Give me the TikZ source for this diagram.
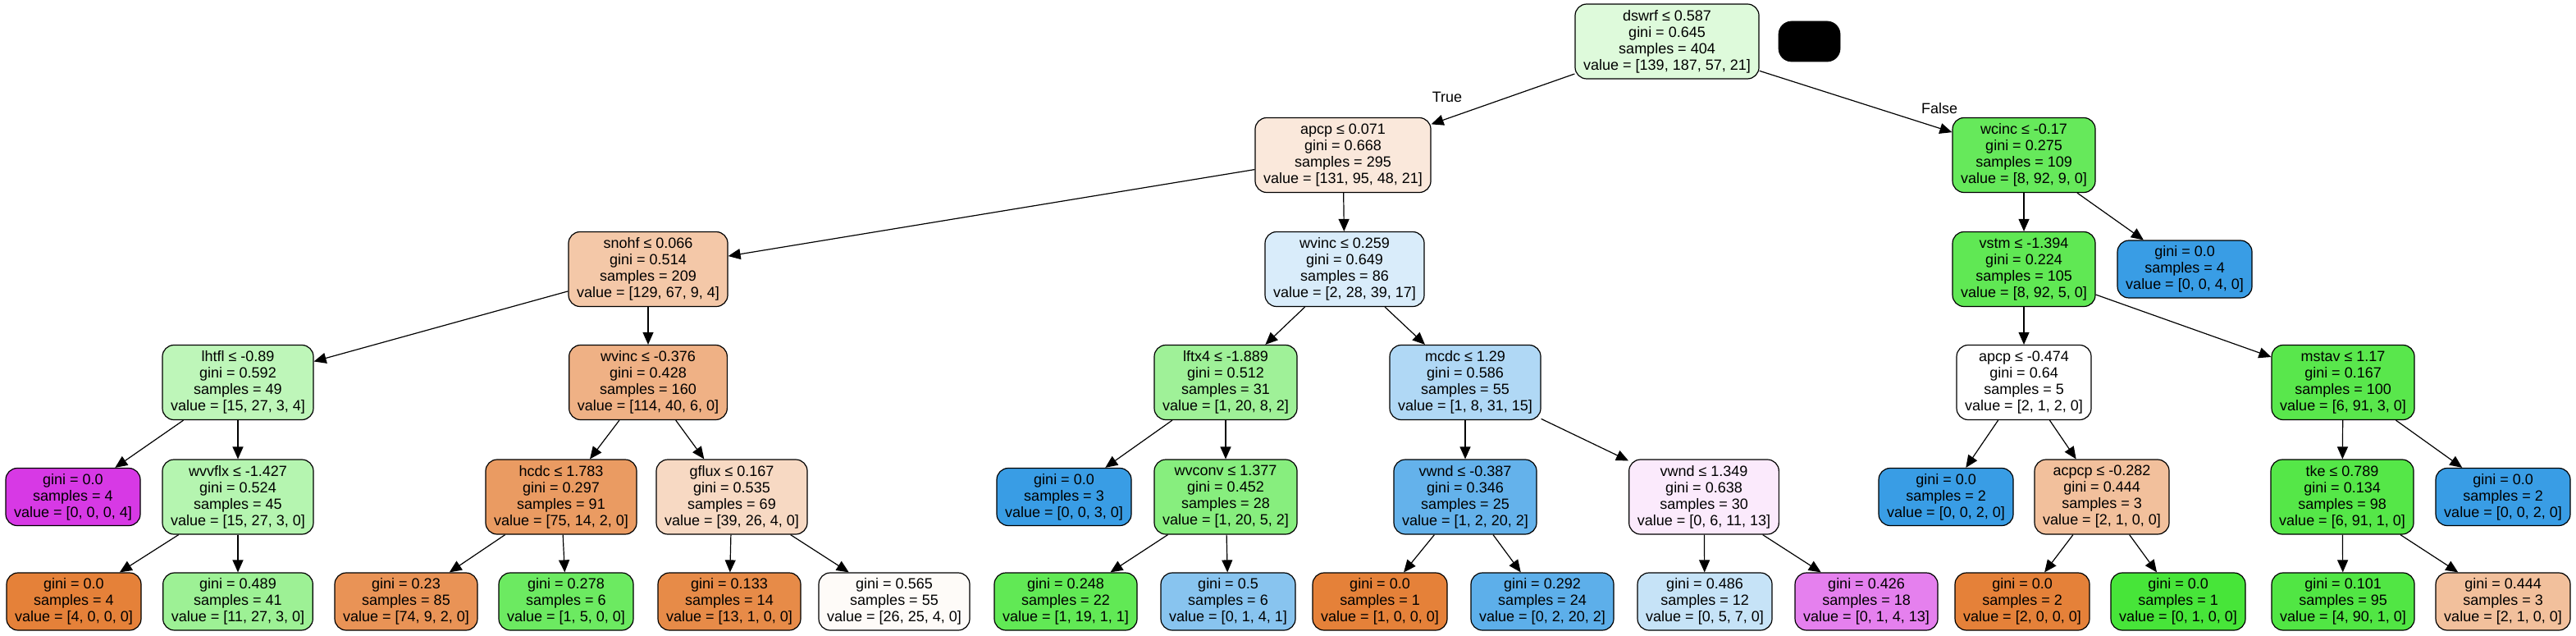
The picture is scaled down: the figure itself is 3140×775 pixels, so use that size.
\documentclass[tikz,border=0pt]{standalone}
\usepackage{fontspec}
\setmainfont{Liberation Sans}
\usetikzlibrary{arrows.meta}
\tikzset{
  fc/.style n args={3}{fill={rgb,255:red,#1;green,#2;blue,#3}},
  splitnode/.style={draw=black, line width=0.6pt, rounded corners=7pt, align=center,
    font=\fontsize{9}{10}\selectfont, inner xsep=5.1pt, inner ysep=0pt, minimum height=45.5pt},
  leafnode/.style={splitnode, minimum height=35pt},
  conn/.style={draw=black, line width=0.6pt, -{Triangle[length=7.5pt,width=6.5pt]}},
  elabel/.style={font=\fontsize{9}{10}\selectfont, inner sep=0pt}
}
\begin{document}
\begin{tikzpicture}[x=0.5pt, y=-0.5pt]
\useasboundingbox (0,0) rectangle (3140,775);
% rank 0
\node[splitnode, fc={222}{250}{219}] (n0) at (2032,50.5) {dswrf ≤ 0.587\\gini = 0.645\\samples = 404\\value = [139, 187, 57, 21]};
\node[draw=black, fill=black, rounded corners=8pt, minimum width=37.5pt, minimum height=24.5pt, inner sep=0pt] (blk) at (2205.5,50.5) {};
% rank 1
\node[splitnode, fc={250}{232}{219}] (n1) at (1637,189) {apcp ≤ 0.071\\gini = 0.668\\samples = 295\\value = [131, 95, 48, 21]};
\node[splitnode, fc={102}{233}{91}] (n28) at (2467,189) {wcinc ≤ -0.17\\gini = 0.275\\samples = 109\\value = [8, 92, 9, 0]};
% rank 2
\node[splitnode, fc={244}{200}{168}] (n2) at (790,328) {snohf ≤ 0.066\\gini = 0.514\\samples = 209\\value = [129, 67, 9, 4]};
\node[splitnode, fc={217}{236}{250}] (n15) at (1639,328) {wvinc ≤ 0.259\\gini = 0.649\\samples = 86\\value = [2, 28, 39, 17]};
\node[splitnode, fc={96}{232}{84}] (n29) at (2467,328) {vstm ≤ -1.394\\gini = 0.224\\samples = 105\\value = [8, 92, 5, 0]};
\node[leafnode, fc={57}{157}{229}] (n40) at (2663,328) {gini = 0.0\\samples = 4\\value = [0, 0, 4, 0]};
% rank 3
\node[splitnode, fc={190}{246}{185}] (n3) at (290,466) {lhtfl ≤ -0.89\\gini = 0.592\\samples = 49\\value = [15, 27, 3, 4]};
\node[splitnode, fc={239}{177}{133}] (n8) at (790,466) {wvinc ≤ -0.376\\gini = 0.428\\samples = 160\\value = [114, 40, 6, 0]};
\node[splitnode, fc={159}{241}{152}] (n16) at (1494,466) {lftx4 ≤ -1.889\\gini = 0.512\\samples = 31\\value = [1, 20, 8, 2]};
\node[splitnode, fc={176}{216}{245}] (n21) at (1786,466) {mcdc ≤ 1.29\\gini = 0.586\\samples = 55\\value = [1, 8, 31, 15]};
\node[splitnode, fill=white] (n30) at (2467,466) {apcp ≤ -0.474\\gini = 0.64\\samples = 5\\value = [2, 1, 2, 0]};
\node[splitnode, fc={89}{231}{76}] (n35) at (2856,466) {mstav ≤ 1.17\\gini = 0.167\\samples = 100\\value = [6, 91, 3, 0]};
% rank 4
\node[leafnode, fc={215}{57}{229}] (n4) at (89,605.5) {gini = 0.0\\samples = 4\\value = [0, 0, 0, 4]};
\node[splitnode, fc={181}{245}{176}] (n5) at (290,605.5) {wvvflx ≤ -1.427\\gini = 0.524\\samples = 45\\value = [15, 27, 3, 0]};
\node[splitnode, fc={234}{155}{98}] (n9) at (684,605.5) {hcdc ≤ 1.783\\gini = 0.297\\samples = 91\\value = [75, 14, 2, 0]};
\node[splitnode, fc={247}{217}{195}] (n12) at (892,605.5) {gflux ≤ 0.167\\gini = 0.535\\samples = 69\\value = [39, 26, 4, 0]};
\node[leafnode, fc={57}{157}{229}] (n17) at (1297,605.5) {gini = 0.0\\samples = 3\\value = [0, 0, 3, 0]};
\node[splitnode, fc={135}{238}{126}] (n18) at (1494,605.5) {wvconv ≤ 1.377\\gini = 0.452\\samples = 28\\value = [1, 20, 5, 2]};
\node[splitnode, fc={100}{178}{235}] (n22) at (1786,605.5) {vwnd ≤ -0.387\\gini = 0.346\\samples = 25\\value = [1, 2, 20, 2]};
\node[splitnode, fc={251}{234}{252}] (n25) at (2077,605.5) {vwnd ≤ 1.349\\gini = 0.638\\samples = 30\\value = [0, 6, 11, 13]};
\node[leafnode, fc={57}{157}{229}] (n31) at (2372,605.5) {gini = 0.0\\samples = 2\\value = [0, 0, 2, 0]};
\node[splitnode, fc={242}{192}{156}] (n32) at (2562,605.5) {acpcp ≤ -0.282\\gini = 0.444\\samples = 3\\value = [2, 1, 0, 0]};
\node[splitnode, fc={85}{231}{72}] (n36) at (2855,605.5) {tke ≤ 0.789\\gini = 0.134\\samples = 98\\value = [6, 91, 1, 0]};
\node[leafnode, fc={57}{157}{229}] (n39) at (3051,605.5) {gini = 0.0\\samples = 2\\value = [0, 0, 2, 0]};
% rank 5
\node[leafnode, fc={229}{129}{57}] (n6) at (90,733) {gini = 0.0\\samples = 4\\value = [4, 0, 0, 0]};
\node[leafnode, fc={157}{241}{149}] (n7) at (290,733) {gini = 0.489\\samples = 41\\value = [11, 27, 3, 0]};
\node[leafnode, fc={233}{147}{86}] (n10) at (495,733) {gini = 0.23\\samples = 85\\value = [74, 9, 2, 0]};
\node[leafnode, fc={108}{234}{97}] (n11) at (690,733) {gini = 0.278\\samples = 6\\value = [1, 5, 0, 0]};
\node[leafnode, fc={231}{139}{72}] (n13) at (889,733) {gini = 0.133\\samples = 14\\value = [13, 1, 0, 0]};
\node[leafnode, fc={254}{251}{248}] (n14) at (1090,733) {gini = 0.565\\samples = 55\\value = [26, 25, 4, 0]};
\node[leafnode, fc={97}{233}{85}] (n19) at (1299,733) {gini = 0.248\\samples = 22\\value = [1, 19, 1, 1]};
\node[leafnode, fc={136}{196}{239}] (n20) at (1497,733) {gini = 0.5\\samples = 6\\value = [0, 1, 4, 1]};
\node[leafnode, fc={229}{129}{57}] (n23) at (1682,733) {gini = 0.0\\samples = 1\\value = [1, 0, 0, 0]};
\node[leafnode, fc={93}{175}{234}] (n24) at (1880,733) {gini = 0.292\\samples = 24\\value = [0, 2, 20, 2]};
\node[leafnode, fc={198}{227}{247}] (n26) at (2078,733) {gini = 0.486\\samples = 12\\value = [0, 5, 7, 0]};
\node[leafnode, fc={229}{128}{238}] (n27) at (2275,733) {gini = 0.426\\samples = 18\\value = [0, 1, 4, 13]};
\node[leafnode, fc={229}{129}{57}] (n33) at (2465,733) {gini = 0.0\\samples = 2\\value = [2, 0, 0, 0]};
\node[leafnode, fc={71}{229}{57}] (n34) at (2655,733) {gini = 0.0\\samples = 1\\value = [0, 1, 0, 0]};
\node[leafnode, fc={81}{230}{68}] (n37) at (2856,733) {gini = 0.101\\samples = 95\\value = [4, 90, 1, 0]};
\node[leafnode, fc={242}{192}{156}] (n38) at (3051,733) {gini = 0.444\\samples = 3\\value = [2, 1, 0, 0]};
% edge labels
\node[elabel] (lt) at (1764,118) {True};
\node[elabel] (lf) at (2364,132) {False};
% connectors
\draw[conn] (n0) -- (n1);
\draw[conn] (n0) -- (n28);
\draw[conn] (n1) -- (n2);
\draw[conn] (n1) -- (n15);
\draw[conn] (n2) -- (n3);
\draw[conn] (n2) -- (n8);
\draw[conn] (n3) -- (n4);
\draw[conn] (n3) -- (n5);
\draw[conn] (n5) -- (n6);
\draw[conn] (n5) -- (n7);
\draw[conn] (n8) -- (n9);
\draw[conn] (n8) -- (n12);
\draw[conn] (n9) -- (n10);
\draw[conn] (n9) -- (n11);
\draw[conn] (n12) -- (n13);
\draw[conn] (n12) -- (n14);
\draw[conn] (n15) -- (n16);
\draw[conn] (n15) -- (n21);
\draw[conn] (n16) -- (n17);
\draw[conn] (n16) -- (n18);
\draw[conn] (n18) -- (n19);
\draw[conn] (n18) -- (n20);
\draw[conn] (n21) -- (n22);
\draw[conn] (n21) -- (n25);
\draw[conn] (n22) -- (n23);
\draw[conn] (n22) -- (n24);
\draw[conn] (n25) -- (n26);
\draw[conn] (n25) -- (n27);
\draw[conn] (n28) -- (n29);
\draw[conn] (n28) -- (n40);
\draw[conn] (n29) -- (n30);
\draw[conn] (n29) -- (n35);
\draw[conn] (n30) -- (n31);
\draw[conn] (n30) -- (n32);
\draw[conn] (n32) -- (n33);
\draw[conn] (n32) -- (n34);
\draw[conn] (n35) -- (n36);
\draw[conn] (n35) -- (n39);
\draw[conn] (n36) -- (n37);
\draw[conn] (n36) -- (n38);
\end{tikzpicture}
\end{document}
